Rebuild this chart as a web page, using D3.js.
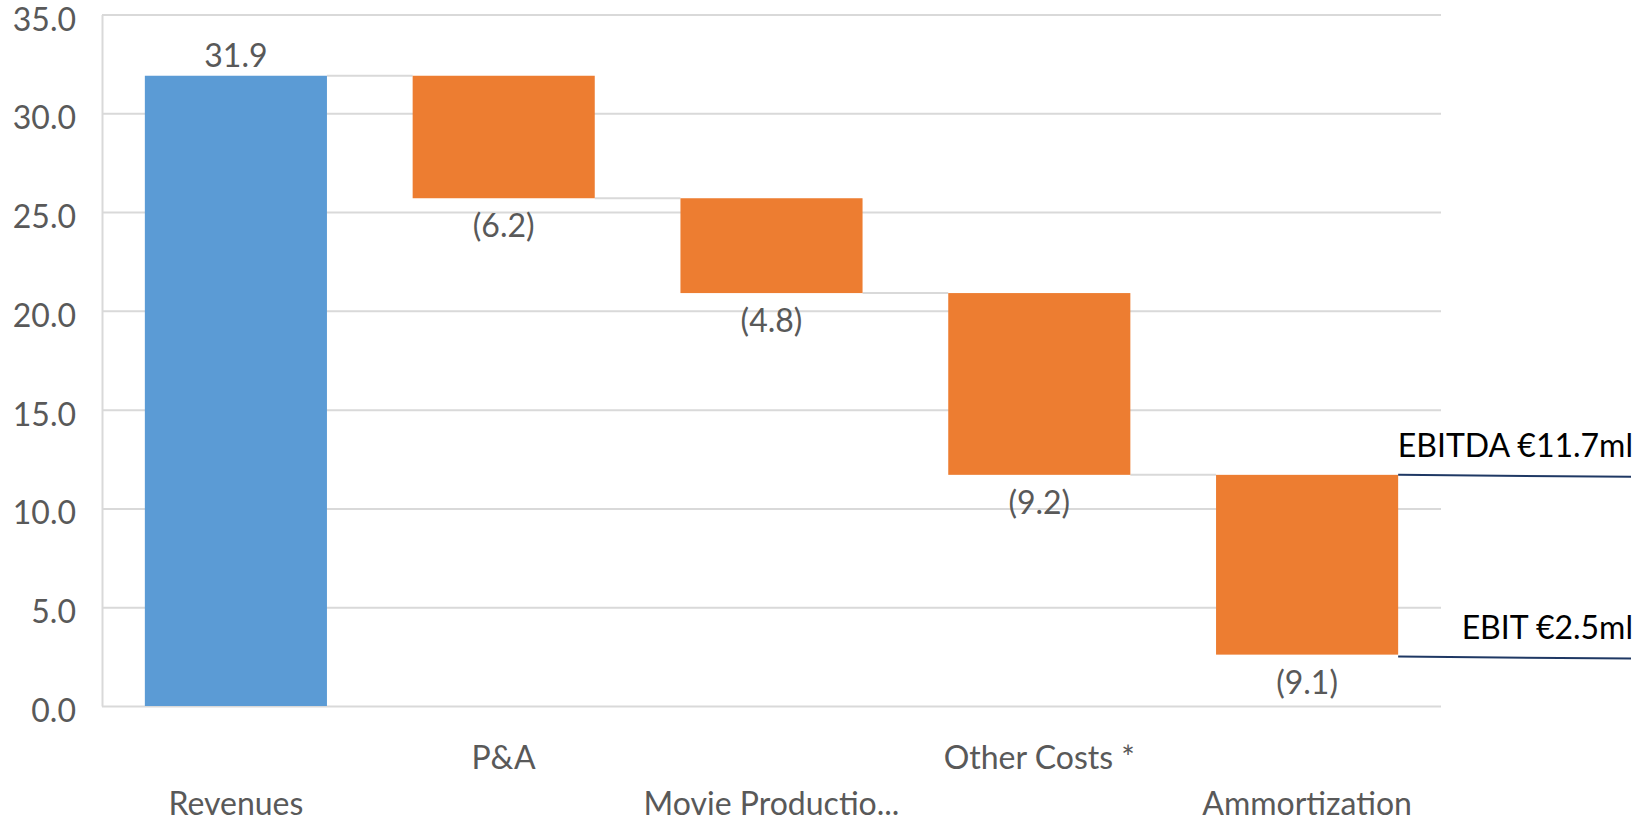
<!DOCTYPE html>
<meta charset="utf-8">
<head>
  <style>
    body { margin: 0; background: #fff; }
    svg { display: block; }
    text { font-family: Lato, "Open Sans", sans-serif; }
    .grid line { stroke: #d9d9d9; stroke-width: 2px; }
    .grid .domain { stroke: #d9d9d9; stroke-width: 2px; }
    .grid text, .xaxis text, .val { fill: #595959; font-size: 32px; }
    .connector { stroke: #d9d9d9; stroke-width: 2px; }
    .marker { stroke: #1f3864; stroke-width: 2px; }
    .marker-label { fill: #000; font-size: 32px; }
  </style>
  <script src="https://cdn.jsdelivr.net/npm/d3@7"></script>
</head>
<body>
  <script>
    // waterfall values
    var categories = ["Revenues", "P&A", "Movie Productio...", "Other Costs *", "Ammortization"]
      , values = [31.9, -6.2, -4.8, -9.2, -9.1]
      , yTicks = [0, 5, 10, 15, 20, 25, 30, 35]
      , markerLabels = ["EBITDA €11.7ml", "EBIT €2.5ml"]
      , markerValues = [11.7, 2.5]
      ;

    // (window.top is read-only, so no "top" here)
    var width = 1645, height = 822
      , plotLeft = 102, plotRight = 1441
      , plotTop = 14.5, plotBottom = 706;

    var svg = d3.select("body").append("svg")
        .attr("width", width)
        .attr("height", height);

    var x = d3.scaleBand()
        .domain(categories)
        .range([plotLeft, plotRight])
        .paddingInner(0.32)
        .paddingOuter(0.16);

    var y = d3.scaleLinear()
        .domain([0, 35])
        .range([plotBottom, plotTop]);

    // running totals -> start / end of each bar
    var run = 0;
    var bars = values.map(function(v, i) {
      var start = i === 0 ? 0 : run;
      run = i === 0 ? v : run + v;
      return { cat: categories[i], v: v, start: start, end: run, first: i === 0 };
    });

    // gridlines + y labels
    var gy = svg.append("g")
        .attr("class", "grid")
        .attr("transform", "translate(" + plotLeft + ",0)")
        .call(d3.axisLeft(y)
          .tickValues(yTicks)
          .tickSize(-(plotRight - plotLeft))
          .tickSizeOuter(0)
          .tickPadding(26)
          .tickFormat(d3.format(".1f")));
    gy.selectAll("text").attr("dy", "15.5px");

    // connectors between bars
    svg.selectAll(".connector")
      .data(bars.slice(0, -1))
      .enter().append("line")
        .attr("class", "connector")
        .attr("x1", function(d) { return x(d.cat) + x.bandwidth(); })
        .attr("x2", function(d, i) { return x(categories[i + 1]); })
        .attr("y1", function(d) { return y(d.end); })
        .attr("y2", function(d) { return y(d.end); });

    svg.selectAll(".bar")
      .data(bars)
      .enter().append("rect")
        .attr("class", "bar")
        .attr("x", function(d) { return x(d.cat); })
        .attr("width", x.bandwidth())
        .attr("y", function(d) { return y(Math.max(d.start, d.end)); })
        .attr("height", function(d) { return Math.abs(y(d.start) - y(d.end)); })
        .attr("fill", function(d) { return d.first ? "#5b9bd5" : "#ed7d31"; });

    // value labels: above for the total, below for the costs
    svg.selectAll(".val")
      .data(bars)
      .enter().append("text")
        .attr("class", "val")
        .attr("text-anchor", "middle")
        .attr("x", function(d) { return x(d.cat) + x.bandwidth() / 2; })
        .attr("y", function(d) {
          return d.v >= 0 ? y(d.end) - 9 : y(d.end) + 39;
        })
        .text(function(d) {
          var s = d3.format(".1f")(Math.abs(d.v));
          return d.v >= 0 ? s : "(" + s + ")";
        });

    // category labels, staggered in two rows
    var gx = svg.append("g")
        .attr("class", "xaxis")
        .attr("transform", "translate(0," + plotBottom + ")")
        .call(d3.axisBottom(x).tickSize(0));
    gx.select(".domain").remove();
    gx.selectAll("text")
        .attr("dy", 0)
        .attr("y", function(d, i) { return i % 2 ? 63 : 109; });

    // EBITDA / EBIT markers
    var last = bars[bars.length - 1];
    svg.selectAll(".marker")
      .data(markerValues)
      .enter().append("line")
        .attr("class", "marker")
        .attr("x1", x(last.cat) + x.bandwidth())
        .attr("x2", 1631)
        .attr("y1", function(d) { return y(d); })
        .attr("y2", function(d) { return y(d) + 2; });

    svg.selectAll(".marker-label")
      .data(markerValues)
      .enter().append("text")
        .attr("class", "marker-label")
        .attr("text-anchor", "end")
        .attr("x", 1633)
        .attr("y", function(d) { return y(d) - 18; })
        .text(function(d, i) { return markerLabels[i]; });
  </script>
</body>
